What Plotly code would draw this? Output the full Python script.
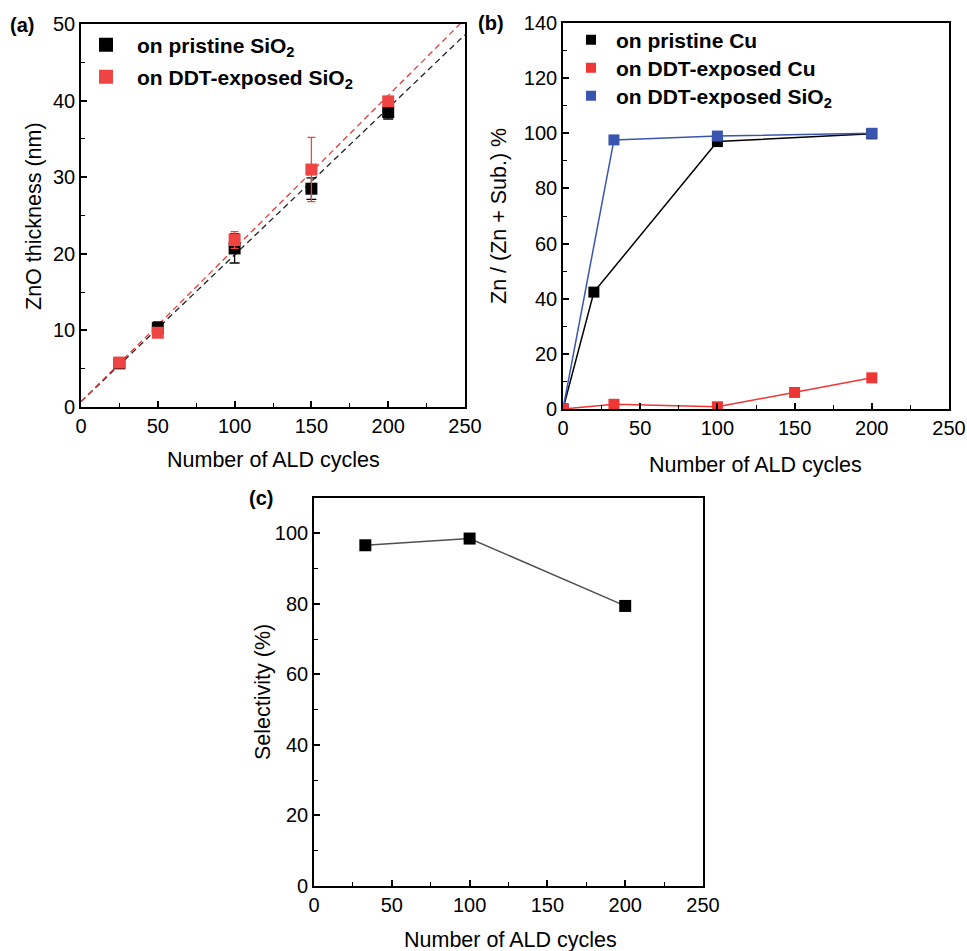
import plotly.graph_objects as go
import numpy as np

# ---------------- data (a) ----------------
a_x = [25, 50, 100, 150, 200]
a_black_y = [5.7, 10.3, 20.7, 28.5, 38.5]
a_black_err = [0.2, 0.8, 1.9, 1.4, 0.9]
a_red_y = [5.8, 9.7, 21.8, 31.0, 39.9]
a_red_err = [0.2, 0.3, 1.1, 4.2, 0.4]
# linear fits (slope, intercept)
a_black_fit = [0.1916, 0.7]
a_red_fit = [0.1998, 0.7]
a_fit_x = [0, 250]

# ---------------- data (b) ----------------
b_black_x = [0, 20, 100, 200]
b_black_y = [0, 42.4, 97.0, 99.8]
b_red_x = [0, 33, 100, 150, 200]
b_red_y = [0, 1.7, 0.8, 6.0, 11.3]
b_blue_x = [0, 33, 100, 200]
b_blue_y = [0, 97.6, 99.0, 100.0]

# ---------------- data (c) ----------------
c_x = [33, 100, 200]
c_y = [96.6, 98.5, 79.4]

FONT = "Liberation Sans, Arial, sans-serif"
BLACK = "#000000"
RED_A = "#EE4444"
RED_B = "#F03535"
BLUE = "#3A55B0"

W, H = 967, 951

def px_x(p):
    return p / W

def px_y(p):
    return 1 - p / H

fig = go.Figure()

# ---- panel (a) ----
fa = np.array(a_fit_x, dtype=float)
fig.add_trace(go.Scatter(x=fa, y=a_black_fit[0] * fa + a_black_fit[1], mode="lines",
                         line=dict(color="#222222", width=1.3, dash="6px,4px"),
                         showlegend=False, xaxis="x", yaxis="y"))
fig.add_trace(go.Scatter(x=fa, y=a_red_fit[0] * fa + a_red_fit[1], mode="lines",
                         line=dict(color="#E83A3A", width=1.3, dash="6px,4px"),
                         showlegend=False, xaxis="x", yaxis="y"))
fig.add_trace(go.Scatter(x=a_x, y=a_black_y, mode="markers",
                         marker=dict(symbol="square", size=12, color=BLACK),
                         error_y=dict(type="data", array=a_black_err, color=BLACK, thickness=1.3, width=5),
                         showlegend=False, xaxis="x", yaxis="y"))
fig.add_trace(go.Scatter(x=a_x, y=a_red_y, mode="markers",
                         marker=dict(symbol="square", size=12, color=RED_A),
                         error_y=dict(type="data", array=a_red_err, color=RED_A, thickness=1.3, width=4),
                         showlegend=False, xaxis="x", yaxis="y"))

# legend entries: (name, colour, marker size, legend id, itemwidth, left px, centre y px)
legend_items = [
    ("<b>on pristine SiO<sub>2</sub></b>", BLACK, 14, "legend", 52, 75, 45, "x", "y"),
    ("<b>on DDT-exposed SiO<sub>2</sub></b>", RED_A, 14, "legend2", 52, 75, 77, "x", "y"),
    ("<b>on pristine Cu</b>", BLACK, 10, "legend3", 40, 566, 40, "x2", "y2"),
    ("<b>on DDT-exposed Cu</b>", RED_B, 10, "legend4", 40, 566, 68, "x2", "y2"),
    ("<b>on DDT-exposed SiO<sub>2</sub></b>", BLUE, 10, "legend5", 40, 566, 96, "x2", "y2"),
]
for nm, col, sz, lg, iw, lx, ly, xa, ya in legend_items:
    fig.add_trace(go.Scatter(x=[None], y=[None], mode="markers", name=nm,
                             marker=dict(symbol="square", size=sz, color=col),
                             legend=lg, xaxis=xa, yaxis=ya))

# ---- panel (b) ----
fig.add_trace(go.Scatter(x=b_black_x, y=b_black_y, mode="lines+markers",
                         line=dict(color=BLACK, width=1.5),
                         marker=dict(symbol="square", size=11, color=BLACK),
                         showlegend=False, xaxis="x2", yaxis="y2"))
fig.add_trace(go.Scatter(x=b_blue_x, y=b_blue_y, mode="lines+markers",
                         line=dict(color=BLUE, width=1.5),
                         marker=dict(symbol="square", size=11, color=BLUE),
                         showlegend=False, xaxis="x2", yaxis="y2"))
fig.add_trace(go.Scatter(x=b_red_x, y=b_red_y, mode="lines+markers",
                         line=dict(color=RED_B, width=1.5),
                         marker=dict(symbol="square", size=11, color=RED_B),
                         showlegend=False, xaxis="x2", yaxis="y2"))

# ---- panel (c) ----
fig.add_trace(go.Scatter(x=c_x, y=c_y, mode="lines+markers",
                         line=dict(color="#505050", width=1.5),
                         marker=dict(symbol="square", size=12, color=BLACK),
                         showlegend=False, xaxis="x3", yaxis="y3"))

axis_common = dict(showline=True, linecolor="black", linewidth=1.6, mirror=True,
                   ticks="inside", ticklen=6, tickwidth=1.5, tickcolor="black",
                   showgrid=False, zeroline=False,
                   tickfont=dict(family=FONT, size=20, color="black"))

def xax(domain, anchor):
    return dict(axis_common, domain=domain, anchor=anchor, range=[0, 250], dtick=50, tick0=0,
                minor=dict(ticks="inside", ticklen=4, tickwidth=1.3, tickcolor="black", dtick=25, showgrid=False))

def yax(domain, anchor, rng, dt, mdt):
    return dict(axis_common, domain=domain, anchor=anchor, range=rng, dtick=dt, tick0=0,
                minor=dict(ticks="inside", ticklen=4, tickwidth=1.3, tickcolor="black", dtick=mdt, showgrid=False))

layout_legends = {}
for nm, col, sz, lg, iw, lx, ly, xa, ya in legend_items:
    layout_legends[lg] = dict(x=px_x(lx), y=px_y(ly), xanchor="left", yanchor="middle",
                              bgcolor="rgba(0,0,0,0)", itemwidth=iw, borderwidth=0,
                              font=dict(family=FONT, size=21, color="black"))

fig.update_layout(
    width=W, height=H,
    margin=dict(l=0, r=0, t=0, b=0, autoexpand=False),
    paper_bgcolor="white", plot_bgcolor="white",
    font=dict(family=FONT, color="black"),
    xaxis=xax([px_x(81), px_x(465)], "y"),
    yaxis=yax([px_y(407), px_y(24)], "x", [0, 50], 10, 5),
    xaxis2=xax([px_x(563), px_x(949)], "y2"),
    yaxis2=yax([px_y(409), px_y(23)], "x2", [0, 140], 20, 10),
    xaxis3=xax([px_x(314), px_x(703)], "y3"),
    yaxis3=yax([px_y(886), px_y(498)], "x3", [0, 110], 20, 10),
    showlegend=True,
    **layout_legends,
)

ann = []
def add_text(text, x, y, size=21.5, angle=0, bold=False):
    ann.append(dict(text=("<b>%s</b>" % text) if bold else text, x=px_x(x), y=px_y(y),
                    xref="paper", yref="paper", xanchor="center", yanchor="middle",
                    showarrow=False, textangle=angle,
                    font=dict(family=FONT, size=size, color="black")))

add_text("(a)", 22, 25, size=20, bold=True)
add_text("(b)", 491, 23, size=20, bold=True)
add_text("(c)", 261, 498, size=20, bold=True)
add_text("ZnO thickness (nm)", 34, 216, angle=-90)
add_text("Number of ALD cycles", 273, 460)
add_text("Zn / (Zn + Sub.) %", 499, 216, angle=-90)
add_text("Number of ALD cycles", 755, 465)
add_text("Selectivity (%)", 263, 692, angle=-90)
add_text("Number of ALD cycles", 510, 940)
fig.update_layout(annotations=ann)

fig.write_html("out.html", config={"displayModeBar": False},
               post_script="document.body.style.margin='0px';")
